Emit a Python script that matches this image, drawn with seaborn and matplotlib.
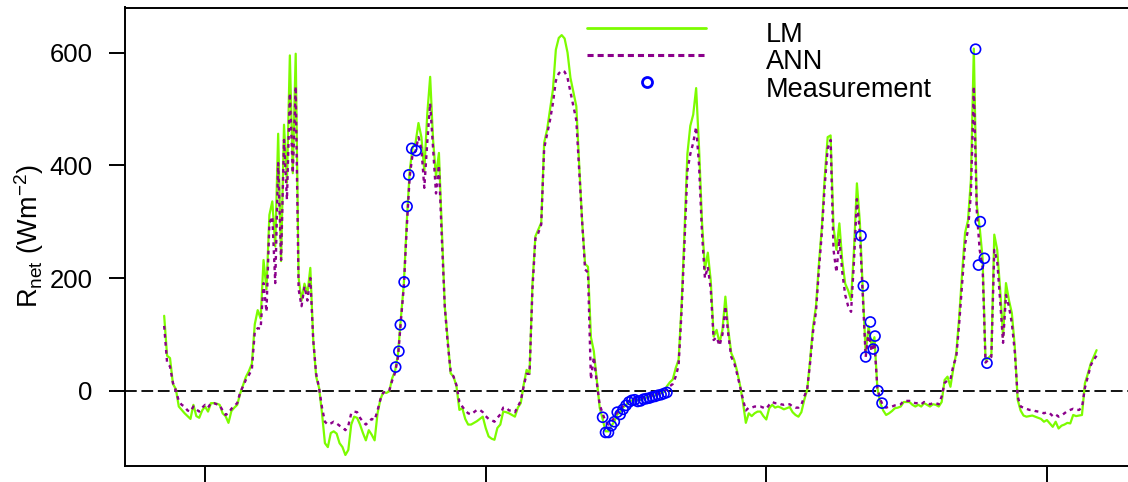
import numpy as np
import pandas as pd
import matplotlib
matplotlib.use("Agg")
import matplotlib.pyplot as plt
import matplotlib.transforms as mtransforms
from matplotlib.lines import Line2D
from matplotlib.legend_handler import HandlerLine2D
import seaborn as sns

# Half-hourly net radiation (W m-2); time in hours from the first labelled tick
t_start = -7.0
step_h = 0.5

lm_rnet = [
    133, 62, 58, 12, 3, -28, -34, -40, -45, -50,
    -25, -45, -48, -35, -28, -37, -22, -22, -23, -25,
    -40, -45, -57, -36, -30, -25, -5, 10, 25, 35,
    48, 118, 143, 128, 232, 180, 312, 336, 256, 456,
    230, 472, 369, 595, 386, 598, 200, 160, 190, 172,
    218, 90, 25, 5, -40, -93, -100, -75, -72, -76,
    -93, -100, -114, -105, -60, -46, -48, -60, -75, -88,
    -70, -78, -88, -40, -15, -2, -4, -1, 22, 35,
    65, 130, 190, 300, 390, 432, 440, 475, 450, 390,
    490, 557, 445, 380, 422, 286, 150, 90, 31, 25,
    8, -34, -31, -50, -60, -60, -57, -54, -50, -46,
    -66, -81, -85, -87, -66, -60, -37, -38, -40, -43,
    -46, -30, -22, 11, 37, 31, 190, 274, 286, 298,
    440, 463, 499, 534, 605, 626, 631, 625, 600, 555,
    530, 505, 400, 300, 225, 220, 95, 70, 20, -30,
    -50, -72, -72, -62, -55, -42, -38, -30, -25, -20,
    -17, -16, -17, -16, -14, -12, -10, -9, -8, -6,
    -4, -2, 8, 15, 20, 40, 55, 150, 280, 420,
    470, 490, 537, 430, 300, 215, 245, 195, 96, 108,
    85, 108, 167, 108, 67, 55, 35, 10, -20, -57,
    -40, -45, -40, -37, -37, -45, -51, -31, -25, -30,
    -28, -30, -33, -31, -29, -38, -43, -46, -38, -16,
    2, 55, 114, 150, 225, 290, 380, 450, 453, 290,
    250, 297, 230, 190, 178, 161, 250, 368, 300, 180,
    67, 115, 80, 95, 5, -22, -35, -43, -40, -36,
    -31, -30, -28, -20, -20, -20, -25, -28, -25, -28,
    -22, -25, -28, -24, -25, -28, -20, 19, 25, 7,
    40, 67, 131, 209, 280, 302, 374, 607, 330, 290,
    235, 55, 58, 64, 277, 250, 180, 96, 191, 161,
    138, 79, -16, -35, -44, -46, -45, -44, -46, -48,
    -50, -55, -52, -58, -64, -55, -67, -62, -60, -57,
    -58, -43, -45, -44, -43, 13, 30, 48, 60, 72,
]

ann_rnet = [
    115, 50, 43, 14, 0, -18, -25, -28, -35, -37,
    -28, -33, -37, -30, -25, -30, -22, -22, -24, -26,
    -35, -43, -40, -32, -27, -22, -3, 8, 20, 28,
    38, 105, 111, 110, 191, 140, 298, 309, 191, 404,
    232, 445, 339, 528, 386, 540, 180, 150, 185, 160,
    200, 90, 30, 5, -30, -55, -60, -58, -55, -58,
    -62, -65, -70, -62, -40, -37, -38, -48, -55, -60,
    -55, -50, -52, -35, -15, -3, -2, 0, 18, 32,
    60, 125, 185, 290, 380, 420, 425, 450, 430, 360,
    440, 510, 430, 350, 400, 270, 150, 85, 35, 25,
    10, -20, -28, -35, -40, -42, -38, -34, -34, -38,
    -45, -50, -52, -55, -48, -42, -30, -30, -35, -35,
    -38, -28, -18, 8, 30, 30, 180, 270, 280, 295,
    430, 455, 480, 510, 550, 563, 568, 566, 555, 530,
    505, 480, 390, 300, 215, 210, 20, 60, 15, -25,
    -40, -55, -60, -55, -48, -38, -33, -27, -22, -18,
    -15, -14, -15, -14, -12, -10, -9, -8, -7, -5,
    -4, -2, 3, 8, 12, 25, 45, 140, 260, 390,
    420, 440, 468, 400, 280, 200, 220, 180, 90, 95,
    80, 100, 150, 100, 60, 50, 30, 8, -15, -35,
    -30, -30, -28, -28, -28, -30, -32, -25, -20, -22,
    -22, -24, -25, -24, -24, -28, -30, -30, -25, -10,
    3, 50, 105, 140, 215, 280, 365, 430, 445, 250,
    210, 270, 210, 170, 150, 140, 230, 340, 280, 170,
    60, 105, 70, 85, 5, -15, -28, -30, -28, -28,
    -26, -25, -24, -18, -18, -18, -20, -22, -22, -24,
    -20, -22, -24, -22, -22, -24, -10, 14, 18, 20,
    45, 60, 120, 190, 260, 285, 350, 540, 320, 250,
    220, 50, 55, 60, 250, 230, 160, 85, 170, 150,
    120, 70, -10, -28, -30, -32, -34, -34, -36, -37,
    -38, -40, -38, -40, -45, -42, -46, -44, -40, -36,
    -34, -32, -34, -34, -30, 5, 25, 45, 55, 62,
]

meas_time = [
    32.6, 33.15, 33.4, 34.05, 34.55, 34.85, 35.35, 36.1,
    68.0, 68.5, 69.0, 69.5, 70.0, 70.5, 71.0, 71.5, 72.0, 72.5,
    73.0, 73.5, 74.0, 74.5, 75.0, 75.5, 76.0, 76.5, 77.0, 77.5,
    78.0, 78.5, 79.0,
    112.2, 112.6, 113.0, 113.8, 114.3, 114.6, 115.1, 115.8,
    131.8, 132.3, 132.6, 133.3, 133.75,
]
meas_rnet = [
    42, 70, 117, 193, 327, 383, 430, 426,
    -47, -74, -74, -62, -55, -38, -42, -33, -26, -20,
    -17, -16, -19, -18, -15, -14, -13, -11, -10, -8,
    -7, -5, -3,
    275, 186, 60, 122, 74, 97, 0, -22,
    606, 223, 300, 235, 49,
]

y_ticks = [0, 200, 400, 600]
x_ticks = [0, 48, 96, 144]
series_names = ["LM", "ANN", "Measurement"]

lm_color = "#7CFC00"
ann_color = "#8B008B"
meas_color = "#0000FF"

hours = t_start + step_h * np.arange(len(lm_rnet))
df = pd.DataFrame({"hour": hours, "LM": lm_rnet, "ANN": ann_rnet})
meas = pd.DataFrame({"hour": meas_time, "Rnet": meas_rnet})

sns.set_theme(style="ticks")
plt.rcParams["font.family"] = ["Liberation Sans", "DejaVu Sans"]
plt.rcParams.update({
    "text.color": "black",
    "axes.labelcolor": "black",
    "xtick.color": "black",
    "ytick.color": "black",
    "mathtext.fontset": "custom",
    "mathtext.rm": "Liberation Sans",
    "mathtext.it": "Liberation Sans:italic",
    "mathtext.bf": "Liberation Sans:bold",
})


class RaisedHandler(HandlerLine2D):
    """Legend key drawn a few pixels above the label's centre line."""

    def create_artists(self, legend, orig_handle, xdescent, ydescent,
                       width, height, fontsize, trans):
        artists = super().create_artists(legend, orig_handle, xdescent, ydescent,
                                         width, height, fontsize, trans)
        shifted = trans + mtransforms.Affine2D().translate(0, 5)
        for art in artists:
            art.set_transform(shifted)
        return artists


W, H = 1128, 482
fig = plt.figure(figsize=(W / 100, H / 100), dpi=100)
ax = fig.add_axes([125 / W, (H - 465.7) / H, 1009 / W, 458.2 / H])

ax.axhline(0, color="black", lw=1.3, ls=(0, (6.5, 2.6)), zorder=1)
sns.lineplot(data=df, x="hour", y="LM", ax=ax, color=lm_color, lw=1.6, zorder=2)
sns.lineplot(data=df, x="hour", y="ANN", ax=ax, color=ann_color, lw=1.7,
             linestyle=(0, (1.6, 1.8)), zorder=3)
sns.scatterplot(data=meas, x="hour", y="Rnet", ax=ax, color="none",
                edgecolor=meas_color, s=52, linewidth=1.2, zorder=4)

ax.set_xlim(-13.7, 158.9)
ax.set_ylim(-133, 680)
ax.set_xticks(x_ticks)
ax.set_xticklabels([])
ax.set_yticks(y_ticks)
ax.set_yticklabels([str(v) for v in y_ticks])
ax.tick_params(direction="out", length=11.5, width=1.4, labelsize=18.5,
               pad=12, colors="black")
for sp in ax.spines.values():
    sp.set_visible(True)
    sp.set_color("black")
    sp.set_linewidth(1.4)

ax.set_xlabel("")
ax.set_ylabel(r"R$_{\mathrm{net}}$ (Wm$^{-2}$)", fontsize=19.5, color="black")
ax.yaxis.set_label_coords(-0.078, 0.5)

handles = [
    Line2D([], [], color=lm_color, lw=2.0),
    Line2D([], [], color=ann_color, lw=2.2, ls=(0, (2.0, 1.3))),
    Line2D([], [], color="none", marker="o", mfc="none", mec=meas_color,
           ms=7.2, mew=2.0),
]
leg = ax.legend(handles, series_names, loc="upper left",
                bbox_to_anchor=(587 / W, 1 - 22 / H), bbox_transform=fig.transFigure,
                frameon=False, fontsize=19.5, handlelength=4.4, handletextpad=2.2,
                labelspacing=0.05, borderpad=0, borderaxespad=0,
                handler_map={Line2D: RaisedHandler()})
for txt in leg.get_texts():
    txt.set_color("black")

fig.savefig("out.png", dpi=100)
